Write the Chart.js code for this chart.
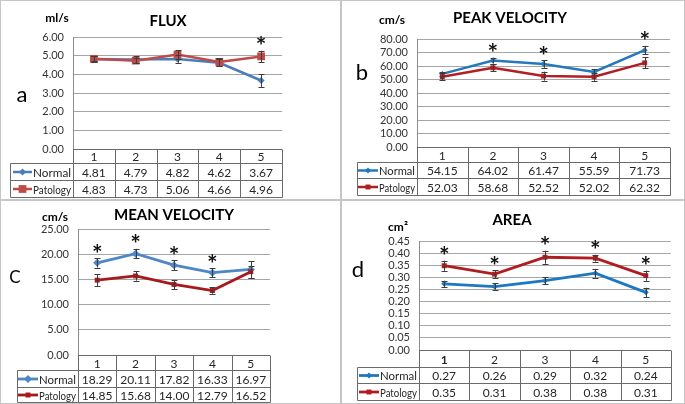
<!DOCTYPE html>
<html>
<head>
<meta charset="utf-8">
<script src="https://cdn.jsdelivr.net/npm/chart.js@4.4.1/dist/chart.umd.min.js"></script>
<style>
  body { margin: 0; background: #fff; width: 685px; height: 404px; position: relative; overflow: hidden; }
  canvas { position: absolute; }
</style>
</head>
<body>
<canvas id="a"></canvas>
<canvas id="b"></canvas>
<canvas id="c"></canvas>
<canvas id="d"></canvas>
<script>
// ********* data *********
const days = ['1', '2', '3', '4', '5'];
const seriesNames = ['Normal', 'Patology'];

const fluxNormal = [4.81, 4.79, 4.82, 4.62, 3.67];
const fluxPatology = [4.83, 4.73, 5.06, 4.66, 4.96];
const fluxNormalErr = [0.15, 0.18, 0.2, 0.2, 0.34];
const fluxPatologyErr = [0.14, 0.14, 0.24, 0.22, 0.3];
const fluxStars = [4];

const peakNormal = [54.15, 64.02, 61.47, 55.59, 71.73];
const peakPatology = [52.03, 58.68, 52.52, 52.02, 62.32];
const peakNormalErr = [1.5, 2.2, 2.8, 1.9, 3.2];
const peakPatologyErr = [2.6, 2.5, 3.3, 3, 4];
const peakStars = [1, 2, 4];

const meanNormal = [18.29, 20.11, 17.82, 16.33, 16.97];
const meanPatology = [14.85, 15.68, 14.00, 12.79, 16.52];
const meanNormalErr = [0.93, 0.96, 1.0, 0.93, 1.65];
const meanPatologyErr = [1.15, 0.93, 0.93, 0.63, 1.2];
const meanStars = [0, 1, 2, 3];

const areaNormal = [0.273, 0.262, 0.286, 0.317, 0.238];
const areaPatology = [0.348, 0.313, 0.383, 0.379, 0.307];
const areaNormalErr = [0.013, 0.013, 0.014, 0.018, 0.019];
const areaPatologyErr = [0.021, 0.017, 0.027, 0.014, 0.021];
const areaStars = [0, 1, 2, 3, 4];

const FONT = 'Lato, "Open Sans", sans-serif';

// ********* helpers *********
function marker(ctx, style, x, y, r, color) {
  ctx.fillStyle = color;
  ctx.beginPath();
  if (style === 'rect') {
    const s = r * Math.SQRT1_2;
    ctx.rect(x - s, y - s, 2 * s, 2 * s);
  } else {
    ctx.moveTo(x, y - r); ctx.lineTo(x + r, y); ctx.lineTo(x, y + r); ctx.lineTo(x - r, y);
    ctx.closePath();
  }
  ctx.fill();
}

function deco(cfg) {
  return {
    id: 'deco' + cfg.id,
    beforeDraw(chart) {
      const ctx = chart.ctx;
      ctx.save();
      ctx.fillStyle = '#fff';
      ctx.fillRect(0, 0, chart.width, chart.height);
      ctx.strokeStyle = '#c6c6c6';
      ctx.lineWidth = 1;
      ctx.strokeRect(0.5, 0.5, chart.width - 1, chart.height - 1);
      ctx.restore();
    },
    afterDatasetsDraw(chart) {
      const ctx = chart.ctx, x = chart.scales.x, y = chart.scales.y;
      ctx.save();
      // error bars
      ctx.strokeStyle = '#3c3c3c';
      ctx.lineWidth = 1;
      [[cfg.normal, cfg.normalErr], [cfg.patology, cfg.patologyErr]].forEach(([vals, errs]) => {
        vals.forEach((v, i) => {
          const px = Math.round(x.getPixelForValue(i)) + 0.5;
          const top = y.getPixelForValue(v + errs[i]);
          const bot = y.getPixelForValue(v - errs[i]);
          ctx.beginPath();
          ctx.moveTo(px, top); ctx.lineTo(px, bot);
          ctx.moveTo(px - 3, Math.round(top) + 0.5); ctx.lineTo(px + 3, Math.round(top) + 0.5);
          ctx.moveTo(px - 3, Math.round(bot) + 0.5); ctx.lineTo(px + 3, Math.round(bot) + 0.5);
          ctx.stroke();
        });
      });
      // asterisks
      ctx.fillStyle = '#111';
      ctx.font = 'bold 25px ' + FONT;
      ctx.textAlign = 'center';
      ctx.textBaseline = 'alphabetic';
      const m = ctx.measureText('*');
      const mid = (m.actualBoundingBoxAscent - m.actualBoundingBoxDescent) / 2;
      cfg.stars.forEach(i => {
        const hi = Math.max(cfg.normal[i] + cfg.normalErr[i], cfg.patology[i] + cfg.patologyErr[i]);
        const cy = y.getPixelForValue(hi) - 10;
        ctx.fillText('*', x.getPixelForValue(i), cy + mid);
      });
      ctx.restore();
    },
    afterDraw(chart) {
      const ctx = chart.ctx, area = chart.chartArea, x = chart.scales.x;
      ctx.save();
      ctx.fillStyle = '#000';
      ctx.textAlign = 'center';
      ctx.textBaseline = 'middle';
      ctx.font = 'bold 15px ' + FONT;
      ctx.fillText(cfg.title, cfg.titleX, cfg.titleY);
      ctx.font = 'bold 12px ' + FONT;
      ctx.fillText(cfg.unit, cfg.unitX, cfg.unitY);
      ctx.font = (cfg.letterSize || 22) + 'px ' + FONT;
      ctx.fillText(cfg.letter, cfg.letterX, cfg.letterY);

      // ****** data table ******
      const rows = cfg.rows.map(r => Math.round(r) + 0.5);
      const n = days.length;
      const colW = (area.right - area.left) / n;
      ctx.strokeStyle = '#6a6a6a';
      ctx.lineWidth = 1;
      ctx.beginPath();
      for (let i = 0; i <= n; i++) {
        const xx = Math.round(area.left + i * colW) + 0.5;
        ctx.moveTo(xx, rows[0]); ctx.lineTo(xx, rows[3]);
      }
      const tl = Math.round(cfg.tableLeft) + 0.5;
      ctx.moveTo(area.left, rows[0]); ctx.lineTo(area.right, rows[0]);
      for (let r = 1; r <= 3; r++) { ctx.moveTo(tl, rows[r]); ctx.lineTo(area.right + 0.5, rows[r]); }
      ctx.moveTo(tl, rows[1]); ctx.lineTo(tl, rows[3]);
      ctx.stroke();

      ctx.fillStyle = '#262626';
      days.forEach((d, i) => {
        const cx = x.getPixelForValue(i);
        ctx.font = (cfg.boldFirst && i === 0 ? 'bold ' : '') + '12px ' + FONT;
        ctx.fillText(d, cx, (rows[0] + rows[1]) / 2 + 1);
        ctx.font = '12px ' + FONT;
        ctx.fillText(cfg.normal[i].toFixed(2), cx, (rows[1] + rows[2]) / 2 + 1, colW - 6);
        ctx.fillText(cfg.patology[i].toFixed(2), cx, (rows[2] + rows[3]) / 2 + 1, colW - 6);
      });

      // legend keys in the first column
      [0, 1].forEach(k => {
        const cy = (rows[1 + k] + rows[2 + k]) / 2;
        const col = cfg.colors[k];
        ctx.strokeStyle = col;
        ctx.lineWidth = cfg.lineWidth;
        ctx.beginPath();
        ctx.moveTo(cfg.legendX[0], cy); ctx.lineTo(cfg.legendX[1], cy);
        ctx.stroke();
        marker(ctx, k === 0 ? 'rectRot' : 'rect', (cfg.legendX[0] + cfg.legendX[1]) / 2, cy, cfg.radii[k], col);
        ctx.fillStyle = '#262626';
        ctx.textAlign = 'left';
        ctx.font = '12px ' + FONT;
        const room = area.left - cfg.legendX[1] - 3;
        ctx.fillText(seriesNames[k], cfg.legendX[1] + 1, cy + 1, room);
      });
      ctx.restore();
    }
  };
}

function makePanel(cfg) {
  const canvas = document.getElementById(cfg.id);
  canvas.style.left = cfg.left + 'px';
  canvas.style.top = cfg.top + 'px';
  canvas.width = cfg.width;
  canvas.height = cfg.height;
  const yw = 40;
  return new Chart(canvas, {
    type: 'line',
    data: {
      labels: days,
      datasets: [
        {
          label: seriesNames[0], data: cfg.normal, order: 1,
          borderColor: cfg.colors[0], backgroundColor: cfg.colors[0], borderWidth: cfg.lineWidth,
          pointStyle: 'rectRot', pointRadius: cfg.radii[0], pointBorderWidth: 0, tension: 0
        },
        {
          label: seriesNames[1], data: cfg.patology, order: 0,
          borderColor: cfg.colors[1], backgroundColor: cfg.colors[1], borderWidth: cfg.lineWidth,
          pointStyle: 'rect', pointRadius: cfg.radii[1], pointBorderWidth: 0, tension: 0
        }
      ]
    },
    options: {
      responsive: false,
      animation: false,
      events: [],
      layout: {
        padding: {
          left: cfg.plot.left - yw,
          right: cfg.width - cfg.plot.right,
          top: cfg.plot.top,
          bottom: cfg.height - cfg.plot.bottom
        }
      },
      scales: {
        x: { display: false, offset: true },
        y: {
          min: 0, max: cfg.max,
          ticks: {
            stepSize: cfg.step, padding: 9, color: '#333',
            autoSkip: false, maxTicksLimit: 20,
            font: { family: FONT, size: 11 },
            callback: v => Number(v).toFixed(2)
          },
          grid: { color: '#a6a6a6', drawTicks: false },
          border: { color: '#8c8c8c' },
          afterFit(s) { s.width = yw; }
        }
      },
      plugins: { legend: { display: false }, tooltip: { enabled: false } }
    },
    plugins: [deco(cfg)]
  });
}

// ********* FLUX *********
makePanel({
  id: 'a', left: 0, top: 0, width: 341, height: 200,
  plot: { left: 73, right: 282, top: 37, bottom: 149 },
  rows: [149, 163, 180, 197], tableLeft: 10, legendX: [13, 32],
  title: 'FLUX', titleX: 168, titleY: 21, unit: 'ml/s', unitX: 57, unitY: 18,
  letter: 'a', letterX: 22, letterY: 95,
  max: 6, step: 1, colors: ['#4A7EBB', '#BE4B48'], lineWidth: 2.5, radii: [3.5, 5.5],
  normal: fluxNormal, patology: fluxPatology, normalErr: fluxNormalErr, patologyErr: fluxPatologyErr, stars: fluxStars
});

// ********* PEAK VELOCITY *********
makePanel({
  id: 'b', left: 341, top: 0, width: 344, height: 200,
  plot: { left: 76, right: 329, top: 39, bottom: 147 },
  rows: [147, 162, 178, 195], tableLeft: 16, legendX: [17, 37],
  title: 'PEAK VELOCITY', titleX: 169, titleY: 18, unit: 'cm/s', unitX: 51, unitY: 20,
  letter: 'b', letterX: 21, letterY: 73,
  max: 80, step: 10, colors: ['#2378BE', '#B21E23'], lineWidth: 2.5, radii: [3, 3.5],
  normal: peakNormal, patology: peakPatology, normalErr: peakNormalErr, patologyErr: peakPatologyErr, stars: peakStars
});

// ********* MEAN VELOCITY *********
makePanel({
  id: 'c', left: 0, top: 200, width: 341, height: 204,
  plot: { left: 78, right: 270, top: 29, bottom: 155 },
  rows: [155, 170, 187, 202], tableLeft: 17, legendX: [18, 38],
  title: 'MEAN VELOCITY', titleX: 174, titleY: 15, unit: 'cm/s', unitX: 55, unitY: 17,
  letter: 'C', letterX: 15, letterY: 78, letterSize: 17,
  max: 25, step: 5, colors: ['#4F86C6', '#A8191E'], lineWidth: 2.8, radii: [4, 3.5],
  normal: meanNormal, patology: meanPatology, normalErr: meanNormalErr, patologyErr: meanPatologyErr, stars: meanStars
});

// ********* AREA *********
makePanel({
  id: 'd', left: 341, top: 200, width: 344, height: 204,
  plot: { left: 78, right: 330, top: 41, bottom: 150 },
  rows: [150, 167, 183, 200], tableLeft: 16, legendX: [18, 38],
  title: 'AREA', titleX: 171, titleY: 20, unit: 'cm²', unitX: 57, unitY: 27,
  letter: 'd', letterX: 17, letterY: 70, boldFirst: true,
  max: 0.45, step: 0.05, colors: ['#1E78C0', '#B01C20'], lineWidth: 2.8, radii: [3, 3.5],
  normal: areaNormal, patology: areaPatology, normalErr: areaNormalErr, patologyErr: areaPatologyErr, stars: areaStars
});
</script>
</body>
</html>
